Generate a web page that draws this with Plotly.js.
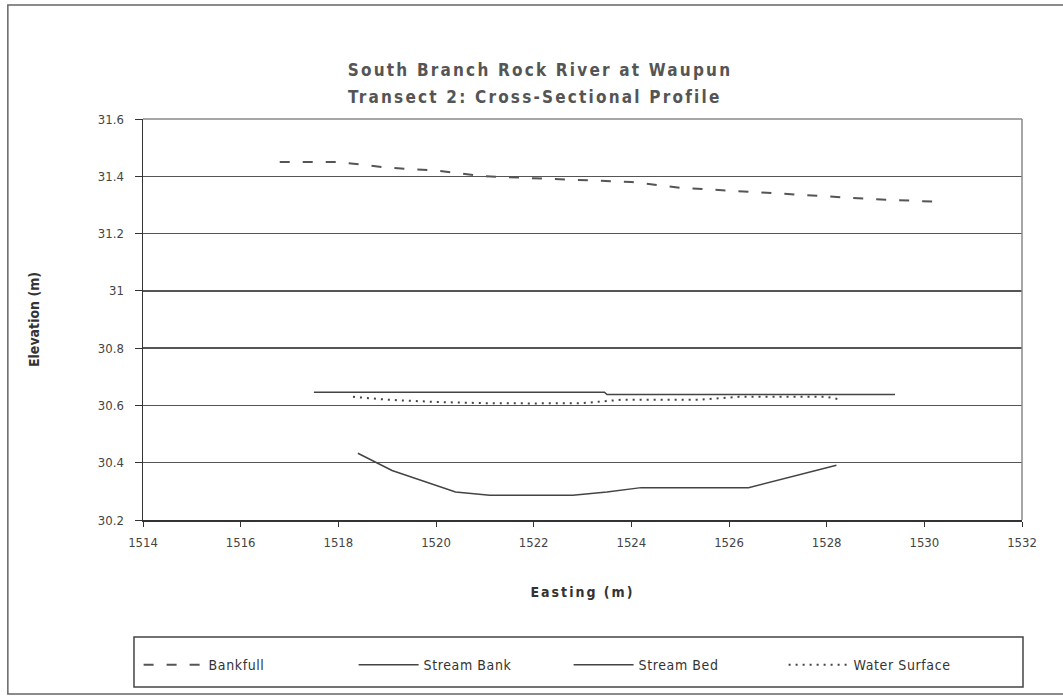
<!DOCTYPE html>
<html>
<head>
<meta charset="utf-8">
<script src="https://cdn.plot.ly/plotly-3.0.1.min.js"></script>
<style>
html,body{margin:0;padding:0;background:#fff;}
#chart{width:1063px;height:696px;}
.gtitle, .annotation-text{letter-spacing:2.2px;}
.xtitle{letter-spacing:2px;}
.legendtext{letter-spacing:0.6px;}
</style>
</head>
<body>
<div id="chart"></div>
<script>
var bankfullX = [1516.8, 1518, 1519, 1520, 1521, 1522.6, 1524, 1525, 1526, 1527.2, 1528, 1529, 1530.4];
var bankfullY = [31.45, 31.45, 31.43, 31.42, 31.40, 31.39, 31.38, 31.36, 31.35, 31.34, 31.33, 31.32, 31.31];

var streamBankX = [1517.5, 1523.45, 1523.5, 1529.4];
var streamBankY = [30.646, 30.646, 30.638, 30.638];

var streamBedX = [1518.4, 1519.1, 1520.4, 1521.1, 1522.8, 1523.5, 1524.2, 1526.4, 1528.2];
var streamBedY = [30.433, 30.373, 30.298, 30.286, 30.286, 30.298, 30.313, 30.313, 30.391];

var waterX = [1518.3, 1519, 1520, 1521, 1522, 1523, 1523.8, 1525.4, 1526.2, 1527, 1528, 1528.3];
var waterY = [30.63, 30.62, 30.612, 30.608, 30.607, 30.608, 30.62, 30.62, 30.63, 30.63, 30.63, 30.62];

var seriesNames = ["Bankfull", "Stream Bank", "Stream Bed", "Water Surface"];
var titleLines = ["South Branch Rock River at Waupun", "Transect 2: Cross-Sectional Profile"];

var FONT = "'Liberation Sans Narrow', 'DejaVu Sans Condensed', 'Liberation Sans', Arial, sans-serif";

var traces = [
  {x: bankfullX, y: bankfullY, name: seriesNames[0], mode: "lines", line: {color: "#555", width: 2, dash: "10px,13px"}},
  {x: streamBankX, y: streamBankY, name: seriesNames[1], mode: "lines", line: {color: "#444", width: 1.5}},
  {x: streamBedX, y: streamBedY, name: seriesNames[2], mode: "lines", line: {color: "#444", width: 1.5}},
  {x: waterX, y: waterY, name: seriesNames[3], mode: "lines", line: {color: "#444", width: 2, dash: "2px,5px"}}
];

var layout = {
  width: 1063, height: 696,
  paper_bgcolor: "#fff", plot_bgcolor: "#fff",
  margin: {l: 143, r: 41, t: 119, b: 176},
  font: {family: FONT, color: "#444", size: 13},
  title: {
    text: "<b>" + titleLines[0] + "</b>",
    font: {family: FONT, size: 17, color: "#555"},
    x: 0.508, xanchor: "center", y: 1 - 70/696, yanchor: "middle"
  },
  annotations: [
    {text: "<b>" + titleLines[1] + "</b>", xref: "paper", yref: "paper",
     x: 0.445, xanchor: "center", y: 1 + (119-97)/401, yanchor: "middle",
     showarrow: false, font: {family: FONT, size: 17, color: "#555"}}
  ],
  xaxis: {
    range: [1514, 1532], dtick: 2, tick0: 1514,
    showgrid: false, zeroline: false,
    showline: true, linecolor: "#333", linewidth: 1.5,
    ticks: "outside", ticklen: 5, tickcolor: "#333",
    ticklabelstandoff: 5,
    tickfont: {family: FONT, size: 13, color: "#444"},
    title: {text: "<b>Easting (m)</b>", font: {family: FONT, size: 14, color: "#333"}, standoff: 38}
  },
  yaxis: {
    range: [30.2, 31.6], dtick: 0.2, tick0: 30.2,
    showgrid: true, gridcolor: "#555", gridwidth: 1.5,
    zeroline: false,
    showline: true, linecolor: "#333", linewidth: 1.5,
    ticks: "outside", ticklen: 7, tickcolor: "#333",
    ticklabelstandoff: 8,
    tickfont: {family: FONT, size: 13, color: "#444"},
    title: {text: "<b>Elevation (m)</b>", font: {family: FONT, size: 14, color: "#333"}, standoff: 55}
  },
  showlegend: true,
  legend: {
    orientation: "h", x: -0.005, xanchor: "left", y: -0.322, yanchor: "top",
    borderwidth: 0, bgcolor: "rgba(0,0,0,0)",
    font: {family: FONT, size: 14, color: "#333"},
    entrywidth: 140, entrywidthmode: "pixels",
    itemwidth: 60
  },
  shapes: [
    {type: "line", xref: "paper", yref: "paper", x0: 0, x1: 1, y0: 1, y1: 1, line: {color: "#888", width: 1.5}},
    {type: "line", xref: "paper", yref: "paper", x0: 1, x1: 1, y0: 0, y1: 1, line: {color: "#888", width: 1.5}},
    {type: "rect", xref: "paper", yref: "paper",
     x0: -135/878, x1: 1.2, y0: 1 + 114/401, y1: -174/401,
     line: {color: "#666", width: 1.5}, fillcolor: "rgba(0,0,0,0)"},
    {type: "rect", xref: "paper", yref: "paper",
     x0: -9/878, x1: 879/878, y0: -117/401, y1: -167/401,
     line: {color: "#444", width: 1.5}, fillcolor: "rgba(0,0,0,0)"}
  ]
};

Plotly.newPlot("chart", traces, layout, {displayModeBar: false, staticPlot: true});
</script>
</body>
</html>
